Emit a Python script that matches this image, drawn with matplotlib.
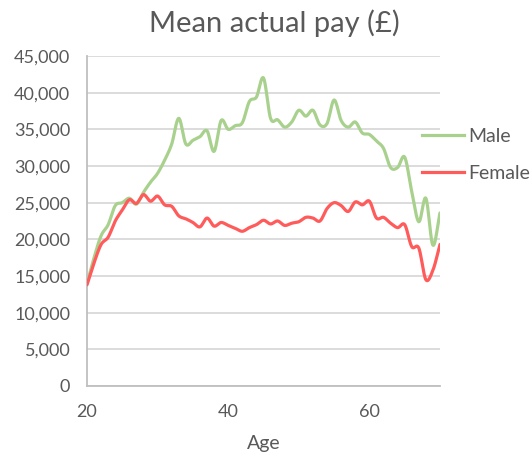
import numpy as np
import matplotlib
matplotlib.use("Agg")
import matplotlib.pyplot as plt
from matplotlib.ticker import FuncFormatter
from matplotlib.lines import Line2D

ages = list(range(20, 71))
male = [14000, 17500, 20500, 22000, 24600, 25000, 25600, 24800, 26400, 27800,
        29000, 30800, 33000, 36500, 33000, 33500, 34000, 34800, 32000, 36200,
        35000, 35500, 35900, 38800, 39400, 42000, 36500, 36300, 35300, 36000,
        37600, 36800, 37600, 35600, 35800, 39000, 36200, 35300, 36000, 34500,
        34300, 33400, 32400, 29800, 29800, 31200, 26500, 22400, 25600, 19200,
        23600]
female = [13800, 16800, 19300, 20300, 22500, 24000, 25400, 24900, 26100, 25200,
          25900, 24700, 24500, 23200, 22800, 22300, 21700, 22900, 21800, 22300,
          21900, 21500, 21100, 21600, 22000, 22600, 22100, 22500, 21900, 22200,
          22400, 23000, 22900, 22500, 24200, 25000, 24600, 23800, 25100, 24700,
          25200, 22900, 23000, 22200, 21600, 22000, 19000, 18800, 14500, 15800,
          19300]
series_names = ["Male", "Female"]
colors = ["#a9d18e", "#ff5b5b"]
title = "Mean actual pay (£)"
xlabel = "Age"
xticks = [20, 40, 60]
yticks = list(range(0, 45001, 5000))


def smooth(x, y, n=16):
    """Catmull-Rom style smoothing (like Excel smoothed lines) for rendering."""
    x = np.asarray(x, float)
    y = np.asarray(y, float)
    px = np.concatenate([[2 * x[0] - x[1]], x, [2 * x[-1] - x[-2]]])
    py = np.concatenate([[2 * y[0] - y[1]], y, [2 * y[-1] - y[-2]]])
    xs, ys = [], []
    t = np.linspace(0, 1, n, endpoint=False)
    for i in range(1, len(px) - 2):
        p0x, p1x, p2x, p3x = px[i - 1:i + 3]
        p0y, p1y, p2y, p3y = py[i - 1:i + 3]
        b1x = p1x + (p2x - p0x) / 6
        b1y = p1y + (p2y - p0y) / 6
        b2x = p2x - (p3x - p1x) / 6
        b2y = p2y - (p3y - p1y) / 6
        xs.append((1 - t) ** 3 * p1x + 3 * (1 - t) ** 2 * t * b1x + 3 * (1 - t) * t ** 2 * b2x + t ** 3 * p2x)
        ys.append((1 - t) ** 3 * p1y + 3 * (1 - t) ** 2 * t * b1y + 3 * (1 - t) * t ** 2 * b2y + t ** 3 * p2y)
    xs.append([x[-1]])
    ys.append([y[-1]])
    return np.concatenate(xs), np.concatenate(ys)


plt.rcParams['font.family'] = ['Lato', 'DejaVu Sans']
txt = "#595959"

fig = plt.figure(figsize=(5.30, 4.58), dpi=100)
ax = fig.add_axes([87 / 530, 1 - 386 / 458, (440 - 87) / 530, (386 - 56) / 458])

handles = []
for vals, c, name in zip([male, female], colors, series_names):
    sx, sy = smooth(ages, vals)
    ax.plot(sx, sy, color=c, lw=2.3, solid_capstyle='round', zorder=3)
    handles.append(Line2D([0], [0], color=c, lw=2.3, label=name))

ax.set_xlim(20, 70)
ax.set_ylim(0, 45000)
ax.set_xticks(xticks)
ax.set_yticks(yticks)
ax.yaxis.set_major_formatter(FuncFormatter(lambda v, p: f"{int(v):,}"))
ax.grid(axis='y', color='#d9d9d9', lw=1.3, zorder=0)
ax.set_axisbelow(True)
for s in ['top', 'right']:
    ax.spines[s].set_visible(False)
for s in ['left', 'bottom']:
    ax.spines[s].set_color('#bfbfbf')
    ax.spines[s].set_linewidth(1.3)
ax.tick_params(axis='both', length=0, labelsize=13, labelcolor=txt)
ax.tick_params(axis='x', pad=13)
ax.tick_params(axis='y', pad=12)
ax.set_xlabel(xlabel, fontsize=14, color=txt, labelpad=11)
fig.text(274 / 530, 1 - 23 / 458, title, ha='center', va='center', fontsize=21, color=txt)

leg = fig.legend(handles=handles, loc='center left', bbox_to_anchor=(414 / 530, 1 - 155 / 458),
                 frameon=False, handlelength=2.15, handletextpad=0.25, labelspacing=1.0,
                 fontsize=14, borderaxespad=0.2, borderpad=0.2)
for t in leg.get_texts():
    t.set_color(txt)

fig.savefig("out.png", dpi=100)
